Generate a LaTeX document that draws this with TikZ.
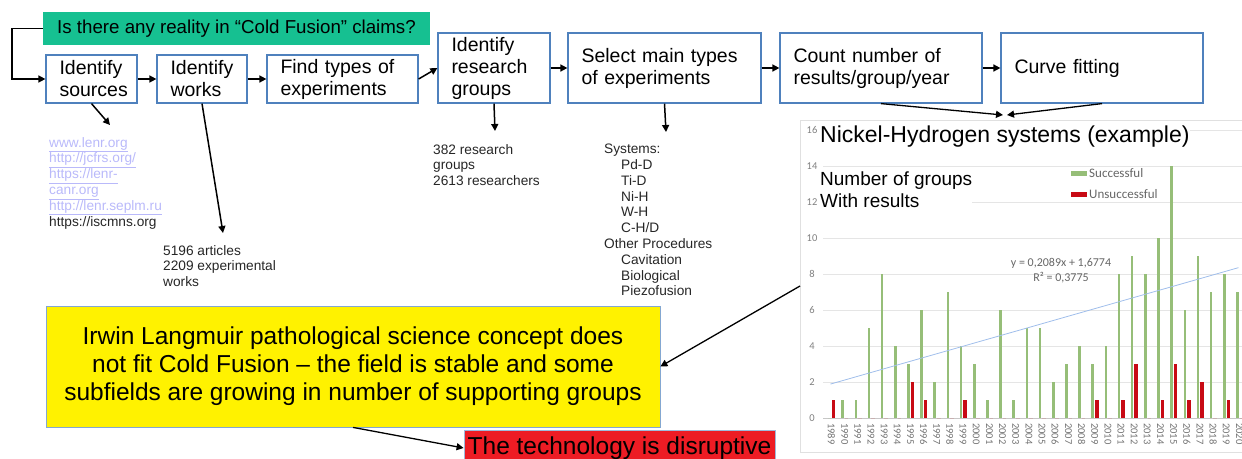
\documentclass[tikz,border=0pt]{standalone}
\usepackage{fontspec}
\setmainfont{Liberation Sans}
\newfontfamily\calib{Carlito}
\usetikzlibrary{arrows.meta}
\definecolor{boxblue}{RGB}{79,129,189}
\definecolor{bannerc}{RGB}{22,192,145}
\definecolor{linkc}{RGB}{185,185,250}
\definecolor{barg}{RGB}{150,190,120}
\definecolor{barr}{RGB}{200,10,20}
\definecolor{trendc}{RGB}{160,190,235}
\definecolor{ylw}{RGB}{255,242,0}
\definecolor{rdc}{RGB}{237,28,36}
\begin{document}
\begin{tikzpicture}[x=1pt,y=-1pt,
  arr/.style={-{Triangle[length=7pt,width=7pt]}, line width=1.5pt},
  flow/.style={draw=boxblue, line width=1.2pt, fill=white, align=left, inner xsep=13.5pt, inner ysep=0pt, font=\fontsize{19.5}{22}\selectfont},
  small/.style={align=left, inner sep=0pt, anchor=north west, font=\fontsize{13.7}{15.8}\selectfont, text=black!85},
  tick/.style={font=\calib\fontsize{10.5}{12}\selectfont, text=black!50, inner sep=0pt},
  yearlab/.style={font=\calib\fontsize{10.5}{12}\selectfont, text=black!55, inner sep=0pt, rotate=-90, anchor=west},
  leg/.style={font=\calib\fontsize{13}{15}\selectfont, text=black!60, inner sep=0pt, anchor=west},
  eqn/.style={font=\calib\fontsize{12}{14}\selectfont, text=black!60, inner sep=0pt}]
\useasboundingbox (0,0) rectangle (1242,458);

% banner and flow boxes
\node[fill=bannerc, minimum width=387, minimum height=33, inner sep=0pt, font=\fontsize{18.7}{22}\selectfont] (q) at (236.5,28.5) {Is there any reality in “Cold Fusion” claims?};
\node[flow, minimum width=91, minimum height=48, text width=64] (s1) at (91.5,79) {Identify\\sources};
\node[flow, minimum width=90, minimum height=48, text width=63] (s2) at (202,79) {Identify\\works};
\node[flow, minimum width=151, minimum height=48, text width=124] (s3) at (342.5,79) {Find types of\\experiments};
\node[flow, minimum width=112, minimum height=70, text width=85] (s4) at (494,68) {Identify\\research\\groups};
\node[flow, minimum width=193, minimum height=70, text width=166] (s5) at (664.5,68) {Select main types\\of experiments};
\node[flow, minimum width=202, minimum height=70, text width=175] (s6) at (881,68) {Count number of\\results/group/year};
\node[flow, minimum width=202, minimum height=70, text width=175] (s7) at (1102,68) {Curve fitting};

\draw[arr] (q.west) -- ++(-31,0) |- (s1.west);
\draw[arr] (s1) -- (s2);
\draw[arr] (s2) -- (s3);
\draw[arr] (s3.east) -- (s4.west);
\draw[arr] (s4) -- (s5);
\draw[arr] (s5) -- (s6);
\draw[arr] (s6) -- (s7);

% result texts
\node[small, text=linkc] (links) at (49,137) {\underline{www.lenr.org}\\\underline{http://jcfrs.org/}\\\underline{https://lenr-}\\\underline{canr.org}\\\underline{http://lenr.seplm.ru}\\\textcolor{black!85}{https://iscmns.org}};
\node[small] (arts) at (163,245) {5196 articles\\2209 experimental\\works};
\node[small] (grps) at (433,144) {382 research\\groups\\2613 researchers};
\node[small] (sys) at (604,144) {Systems:\\\hspace*{17pt}Pd-D\\\hspace*{17pt}Ti-D\\\hspace*{17pt}Ni-H\\\hspace*{17pt}W-H\\\hspace*{17pt}C-H/D\\Other Procedures\\\hspace*{17pt}Cavitation\\\hspace*{17pt}Biological\\\hspace*{17pt}Piezofusion};

\coordinate (t1) at (110,125);
\coordinate (t2) at (223,233);
\coordinate (t4) at (495,131);
\coordinate (t5) at (666,132);
\draw[arr] (s1.south) -- (t1);
\draw[arr] (s2.south) -- (t2);
\draw[arr] (s4.south) -- (t4);
\draw[arr] (s5.south) -- (t5);

% chart
\node[draw=black!12, minimum width=452, minimum height=332, inner sep=0pt] (chart) at (1026,286) {};
\coordinate (chw) at (800,286);
\foreach \v in {2,4,...,16} \draw[black!10, line width=0.6pt] (823,{418-18*\v}) -- (1242,{418-18*\v});
\draw[black!22, line width=0.6pt] (823,418) -- (1242,418);
\foreach \v in {0,2,...,16} \node[tick] at (812,{418-18*\v}) {\v};
\foreach \g [count=\i from 0] in {0,1,1,5,8,4,3,6,2,7,4,3,1,6,1,5,5,2,3,4,3,4,8,9,8,10,14,6,9,7,8,7}
  \fill[barg] ({829.5+13.16*\i-1.3},418) rectangle ++(2.6,{-18*\g});
\foreach \r [count=\i from 0] in {1,0,0,0,0,0,2,1,0,0,1,0,0,0,0,0,0,0,0,0,1,0,1,3,0,1,3,1,2,0,1,0}
  \fill[barr] ({833.5+13.16*\i-1.8},418) rectangle ++(3.6,{-18*\r});
\foreach \i in {0,...,31} {
  \pgfmathtruncatemacro\yr{1989+\i}
  \node[yearlab] at ({831.5+13.16*\i},423) {\yr};
}
\draw[trendc, line width=0.8pt] (830.5,{418-18*1.8863}) -- (1238.5,{418-18*8.3533});
\node[anchor=west, fill=white, inner sep=0pt, font=\fontsize{23}{26}\selectfont] (ttl) at (820,137) {Nickel-Hydrogen systems (example)};
\node[anchor=north west, fill=white, inner sep=0pt, align=left, font=\fontsize{19}{22}\selectfont] (ngr) at (820,172) {Number of groups\\With results};
\fill[barg] (1071,171) rectangle (1087,176);
\node[leg] (lg1) at (1089,173.5) {Successful};
\fill[barr] (1071,191.5) rectangle (1087,196.5);
\node[leg] (lg2) at (1089,194) {Unsuccessful};
\node[eqn] (eq1) at (1061,263) {y = 0,2089x + 1,6774};
\node[eqn] (eq2) at (1061,278) {R² = 0,3775};

\coordinate (c1) at (1003,115);
\coordinate (c2) at (1007,115);
\draw[arr, line width=1.3pt] (s6.south) -- (c1);
\draw[arr, line width=1.3pt] (s7.south) -- (c2);

% conclusions
\node[draw=boxblue!70, line width=0.8pt, fill=ylw, minimum width=614, minimum height=121, align=center, inner sep=0pt, font=\fontsize{24.5}{28}\selectfont] (concl) at (353,366.5) {Irwin Langmuir pathological science concept does\\not fit Cold Fusion – the field is stable and some\\subfields are growing in number of supporting groups};
\node[draw=boxblue!55, line width=0.8pt, fill=rdc, minimum width=311, minimum height=36, inner sep=0pt, font=\fontsize{24.5}{28}\selectfont] (disr) at (619.5,448) {The technology is disruptive};
\draw[arr, line width=1.3pt] (chw) -- (concl.east);
\draw[arr, line width=1.3pt] (concl.south) -- (disr.west);
\end{tikzpicture}
\end{document}
